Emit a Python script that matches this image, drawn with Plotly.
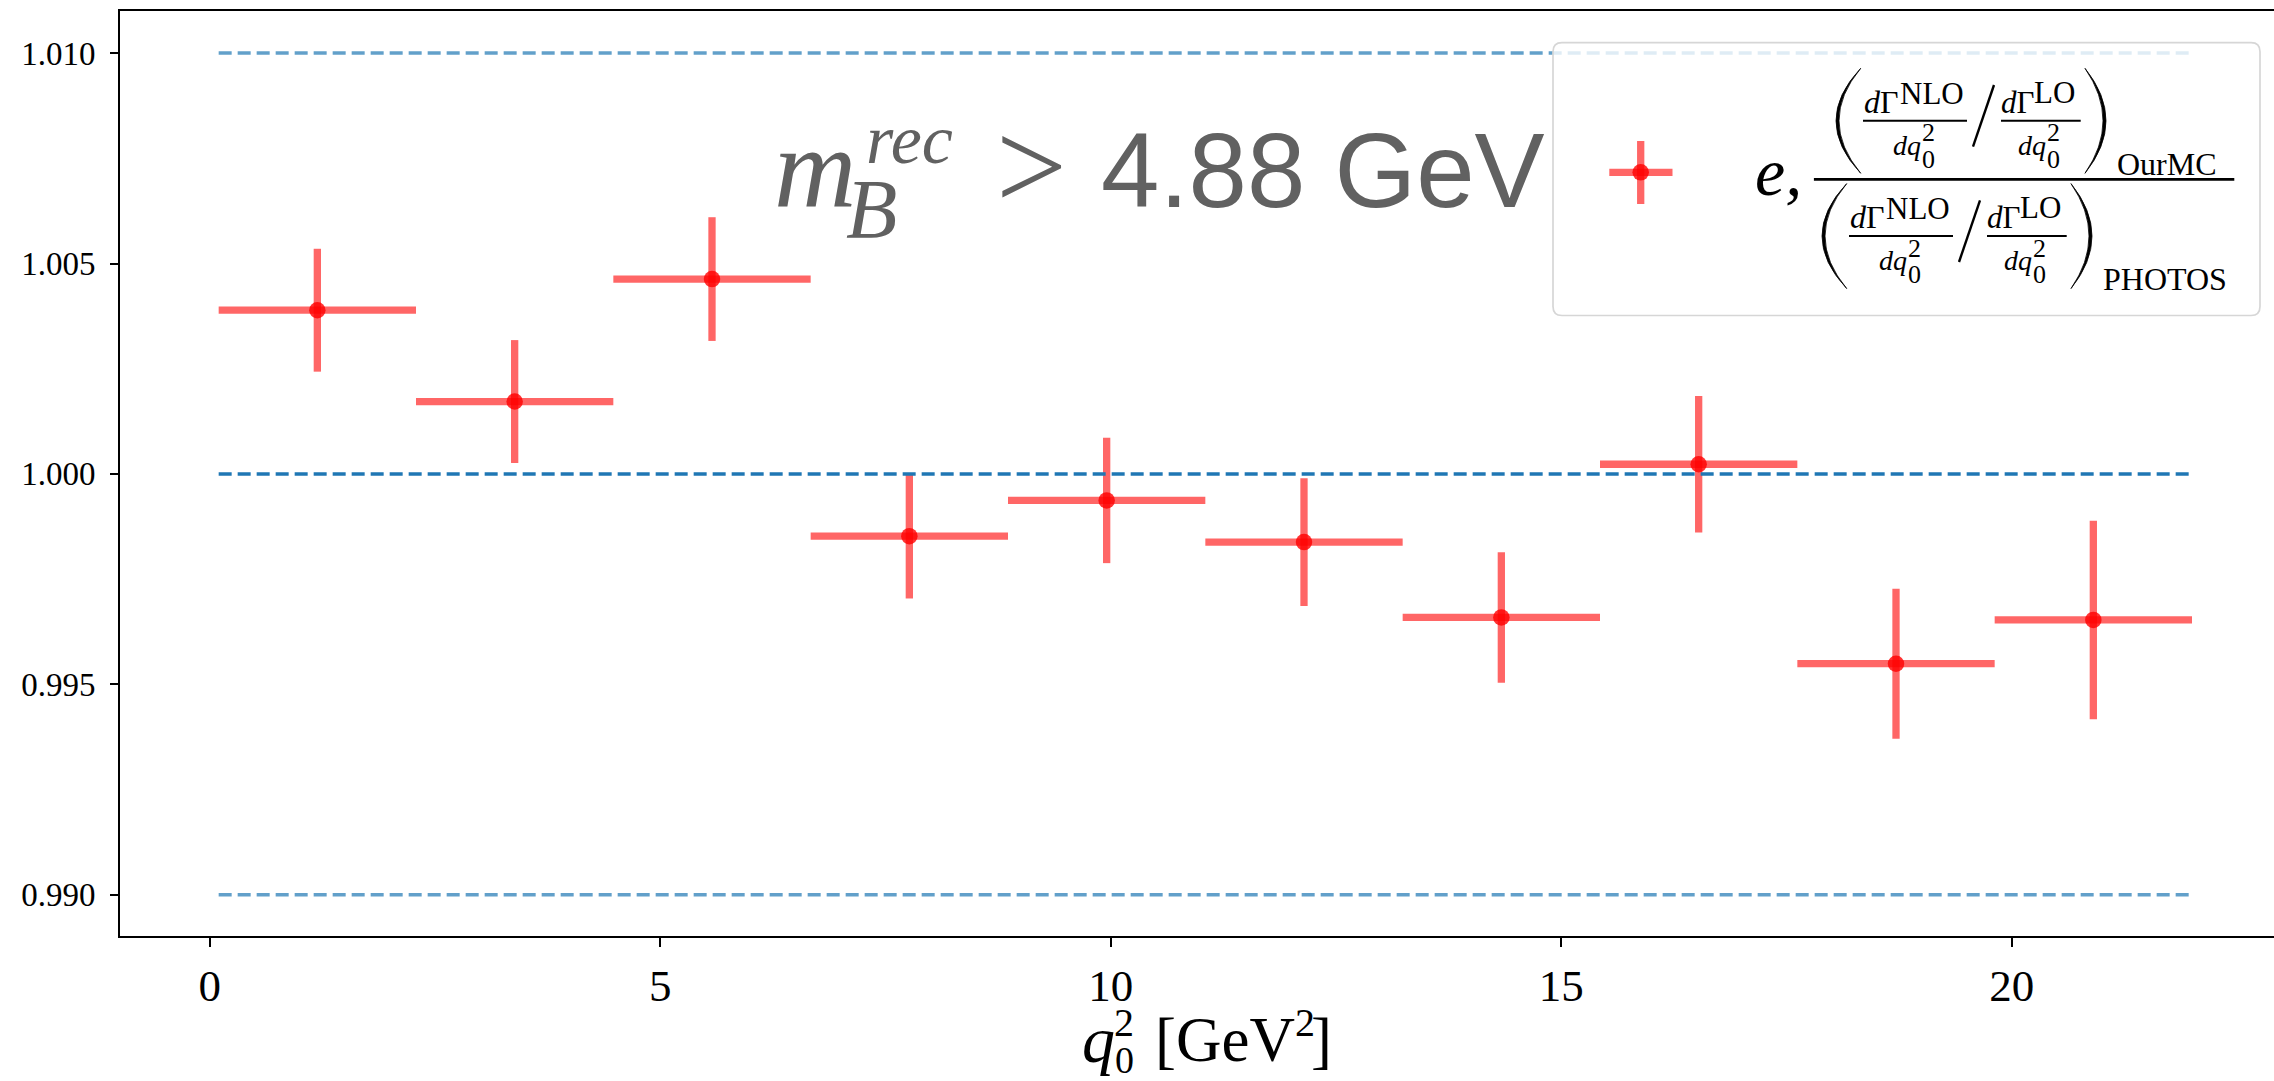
import plotly.graph_objects as go

# ---- data -------------------------------------------------------------
bin_edges = [0.1, 2.29, 4.48, 6.67, 8.86, 11.05, 13.24, 15.43, 17.62, 19.81, 22.0]
ratio = [1.00389, 1.00172, 1.00463, 0.99852, 0.99937,
         0.99838, 0.99659, 1.00023, 0.99549, 0.99653]
ratio_err = [0.00146, 0.00146, 0.00147, 0.00148, 0.00149,
             0.00152, 0.00155, 0.00162, 0.00178, 0.00236]
ref_levels = [0.99, 1.00, 1.01]
x_ticks = [0, 5, 10, 15, 20]
y_ticks = [0.990, 0.995, 1.000, 1.005, 1.010]

bin_centers = [(a + b) / 2 for a, b in zip(bin_edges[:-1], bin_edges[1:])]
bin_half = [(b - a) / 2 for a, b in zip(bin_edges[:-1], bin_edges[1:])]

# ---- geometry ---------------------------------------------------------
FIG_W, FIG_H = 2274, 1081
M_L, M_R, M_T, M_B = 120, 0, 11, 145
PLOT_W = FIG_W - M_L - M_R
PLOT_H = FIG_H - M_T - M_B
PLOT_BOTTOM = FIG_H - M_B

SERIF = "Liberation Serif"
SANS = "Liberation Sans"
DESCENT = {SERIF: 0.216, SANS: 0.212}

RED_BAR = "rgba(255,0,0,0.6)"
RED_DOT = "rgba(255,0,0,0.8)"
BLUE = "#1f77b4"
BLUE_LIGHT = "rgba(31,119,180,0.7)"
GREY_TXT = "#616161"


def px(xp):
    return (xp - M_L) / PLOT_W


def py(yp):
    return (PLOT_BOTTOM - yp) / PLOT_H


annotations = []
shapes = []


def text(s, left, baseline, size, family=SERIF, color="black", italic=False):
    if italic:
        s = f"<i>{s}</i>"
    bottom = baseline + DESCENT[family] * size
    annotations.append(dict(
        text=s, x=px(left), y=py(bottom), xref="paper", yref="paper",
        xanchor="left", yanchor="bottom", showarrow=False,
        borderpad=0, borderwidth=0,
        font=dict(family=family, size=size, color=color)))


def seg(x0, y0, x1, y1, width, color="black"):
    shapes.append(dict(type="line", xref="paper", yref="paper",
                       x0=px(x0), y0=py(y0), x1=px(x1), y1=py(y1),
                       line=dict(color=color, width=width), layer="above"))


def paren(x_end, y_top, y_bot, x_bulge, thick=3.0):
    ym = (y_top + y_bot) / 2
    c_out = 2 * x_bulge - x_end
    direction = 1 if x_bulge > x_end else -1
    c_in = c_out - direction * 2 * thick
    path = (f"M {px(x_end)},{py(y_top)} Q {px(c_out)},{py(ym)} {px(x_end)},{py(y_bot)} "
            f"Q {px(c_in)},{py(ym)} {px(x_end)},{py(y_top)} Z")
    shapes.append(dict(type="path", xref="paper", yref="paper", path=path,
                       fillcolor="black", line=dict(color="black", width=0.8),
                       layer="above"))


def rounded_box(x0, y0, x1, y1, r):
    path = (f"M {px(x0 + r)},{py(y0)} L {px(x1 - r)},{py(y0)} "
            f"Q {px(x1)},{py(y0)} {px(x1)},{py(y0 + r)} "
            f"L {px(x1)},{py(y1 - r)} Q {px(x1)},{py(y1)} {px(x1 - r)},{py(y1)} "
            f"L {px(x0 + r)},{py(y1)} Q {px(x0)},{py(y1)} {px(x0)},{py(y1 - r)} "
            f"L {px(x0)},{py(y0 + r)} Q {px(x0)},{py(y0)} {px(x0 + r)},{py(y0)} Z")
    shapes.append(dict(type="path", xref="paper", yref="paper", path=path,
                       fillcolor="rgba(255,255,255,0.8)",
                       line=dict(color="#d6d6d6", width=1.7), layer="above"))


# ---- figure -----------------------------------------------------------
fig = go.Figure()

fig.add_trace(go.Scatter(
    x=bin_centers, y=ratio, mode="markers",
    marker=dict(size=16.5, color=RED_DOT, line=dict(width=0)),
    error_x=dict(type="data", array=bin_half, symmetric=True,
                 thickness=7.3, width=0, color=RED_BAR),
    error_y=dict(type="data", array=ratio_err, symmetric=True,
                 thickness=7.3, width=0, color=RED_BAR),
    hoverinfo="skip"))

for lvl in ref_levels:
    fig.add_trace(go.Scatter(
        x=[bin_edges[0], bin_edges[-1]], y=[lvl, lvl], mode="lines",
        line=dict(color=BLUE if lvl == 1.0 else BLUE_LIGHT, width=3.5,
                  dash="13px,6px"),
        hoverinfo="skip"))

# selection label inside the axes
text("m", 774, 206.7, 114, color=GREY_TXT, italic=True)
text("rec", 866, 163, 70, color=GREY_TXT, italic=True)
text("B", 846, 238.3, 84, color=GREY_TXT, italic=True)
text("&gt;", 996, 209, 126, color=GREY_TXT)
text("4.88 GeV", 1101, 206.7, 105, family=SANS, color=GREY_TXT)

# x-axis title  q0^2 [GeV^2]
text("q", 1082, 1061.7, 66, italic=True)
text("2", 1114, 1036.7, 40)
text("0", 1115, 1072.5, 38)
text("[GeV", 1155, 1061.7, 63)
text("2", 1295, 1036.7, 40)
text("]", 1311, 1061.7, 63)

# ---- legend -----------------------------------------------------------
rounded_box(1553, 42.7, 2260, 315.5, 9)

# key: error cross with dot
seg(1609.3, 172.3, 1672.5, 172.3, 7.3, RED_BAR)
seg(1640.7, 141, 1640.7, 204, 7.3, RED_BAR)
shapes.append(dict(type="circle", xref="paper", yref="paper",
                   x0=px(1640.7 - 8.3), x1=px(1640.7 + 8.3),
                   y0=py(172.3 + 8.3), y1=py(172.3 - 8.3),
                   fillcolor=RED_DOT, line=dict(width=0), layer="above"))

text("e,", 1755, 195, 68, italic=True)
seg(1813.9, 179.3, 2234.3, 179.3, 2.7)


def ratio_block(dx, dy, label, label_left, label_base):
    paren(1860.7 + dx, 68.3 + dy, 173.3 + dy, 1836 + dx)
    # dGamma^NLO / dq0^2
    seg(1863 + dx, 120.7 + dy, 1967 + dx, 120.7 + dy, 2)
    text("<i>d</i>Γ", 1864 + dx, 113 + dy, 32)
    text("NLO", 1900 + dx, 104 + dy, 31)
    text("dq", 1893 + dx, 155 + dy, 28, italic=True)
    text("2", 1922 + dx, 141.7 + dy, 26)
    text("0", 1922 + dx, 168 + dy, 26)
    # slash
    seg(1994 + dx, 85 + dy, 1973 + dx, 146.7 + dy, 2.4)
    # dGamma^LO / dq0^2
    seg(2001 + dx, 120.7 + dy, 2080.7 + dx, 120.7 + dy, 2)
    text("<i>d</i>Γ", 2001 + dx, 113 + dy, 31)
    text("LO", 2034 + dx, 103 + dy, 31)
    text("dq", 2018 + dx, 155 + dy, 28, italic=True)
    text("2", 2046.5 + dx, 141.7 + dy, 26)
    text("0", 2046.5 + dx, 168 + dy, 26)
    paren(2085 + dx, 68.3 + dy, 173.3 + dy, 2106 + dx)
    text(label, label_left, label_base, 32)


ratio_block(0, 0, "OurMC", 2117, 175)
ratio_block(-14, 115.3, "PHOTOS", 2103, 290)

# ---- axes -------------------------------------------------------------
fig.update_layout(
    width=FIG_W, height=FIG_H,
    margin=dict(l=M_L, r=M_R, t=M_T, b=M_B, pad=0),
    plot_bgcolor="white", paper_bgcolor="white",
    showlegend=False,
    shapes=shapes, annotations=annotations,
    xaxis=dict(
        range=[-0.995, 22.91], tickvals=x_ticks,
        ticktext=[str(v) for v in x_ticks],
        ticks="outside", ticklen=9, tickwidth=2, tickcolor="black",
        showline=True, linecolor="black", linewidth=2, mirror=True,
        showgrid=False, zeroline=False,
        tickfont=dict(family=SERIF, size=45, color="black")),
    yaxis=dict(
        range=[0.98902, 1.011], tickvals=y_ticks,
        ticktext=[f"{v:.3f}" for v in y_ticks],
        ticks="outside", ticklen=8, tickwidth=2, tickcolor="black",
        showline=True, linecolor="black", linewidth=2, mirror=False,
        showgrid=False, zeroline=False, ticklabelstandoff=8,
        tickfont=dict(family=SERIF, size=33, color="black")),
)

fig.write_html("out.html")
